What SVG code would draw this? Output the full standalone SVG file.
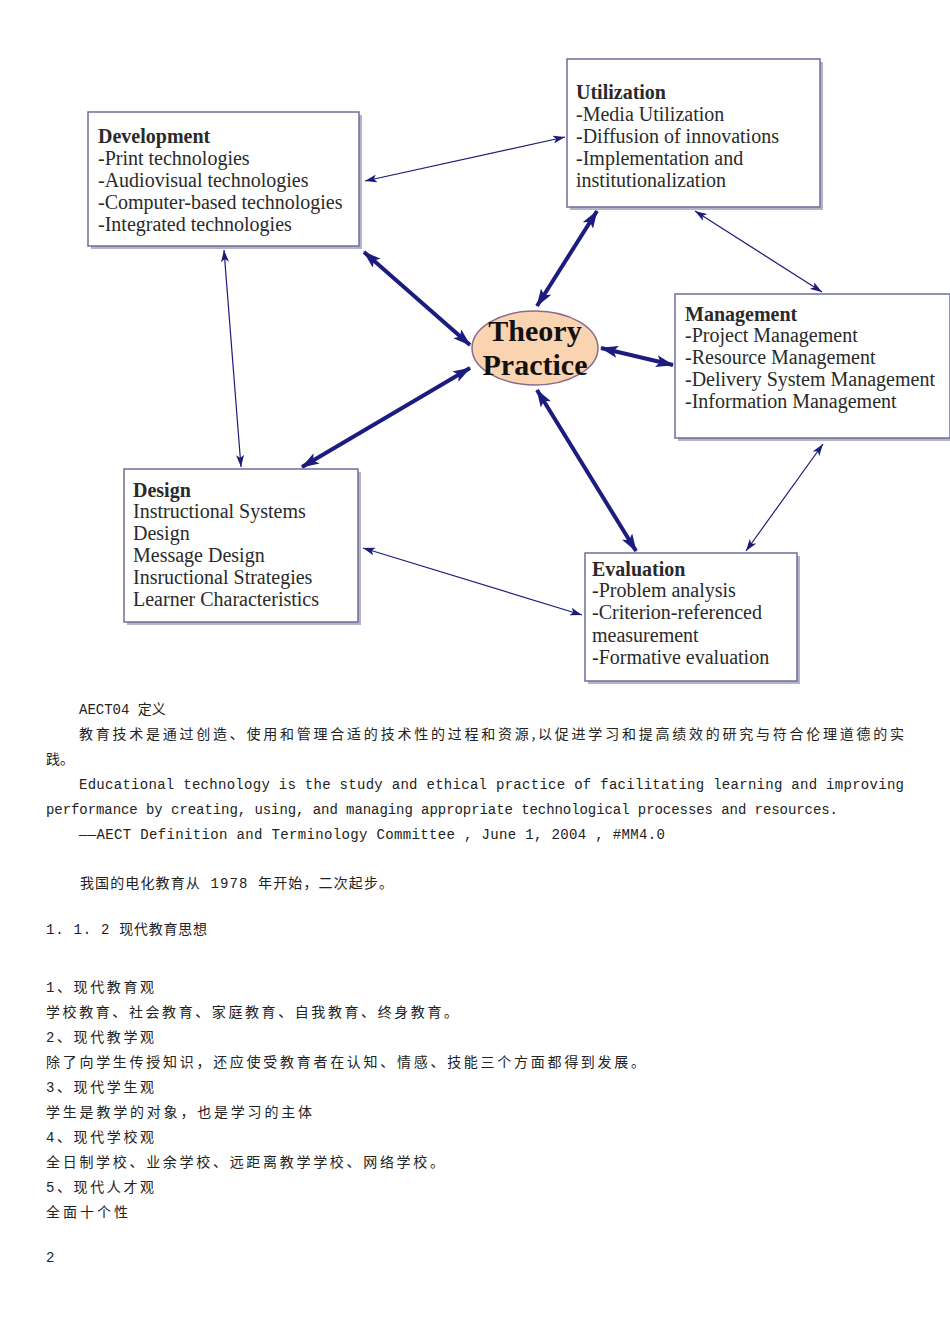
<svg xmlns="http://www.w3.org/2000/svg" width="950" height="1344" viewBox="0 0 950 1344">
<style>
.box{fill:#fff;stroke:#6e6e9a;stroke-width:1.5}
.sh{fill:#b4b4c8}
.bt{font-family:"Liberation Serif","Times New Roman",serif;font-size:20px;fill:#2a2a2a}
.bt .h{font-weight:bold}
.thin{stroke:#1c1c78;stroke-width:1.2;fill:none}
.thick{stroke:#1c1c80;stroke-width:4;fill:none}
.doc{font-family:"Liberation Mono","Noto Sans CJK SC",monospace;font-size:14px;fill:#222}
.cjk{font-family:"Noto Sans CJK SC",sans-serif;font-size:14px;fill:#222}
</style>
<defs>
<marker id="a1" viewBox="0 0 12 8" markerWidth="12" markerHeight="8" refX="12" refY="4" orient="auto-start-reverse" markerUnits="userSpaceOnUse"><path d="M0,0 L12,4 L0,8 L3,4 z" fill="#1c1c78"/></marker>
<marker id="a2" viewBox="0 0 18 12" markerWidth="18" markerHeight="12" refX="17" refY="6" orient="auto-start-reverse" markerUnits="userSpaceOnUse"><path d="M0,0 L18,6 L0,12 L4,6 z" fill="#1c1c80"/></marker>
</defs>
<g id="connectors">
<line class="thin" x1="365" y1="181" x2="565" y2="137" marker-start="url(#a1)" marker-end="url(#a1)"/>
<line class="thin" x1="224" y1="250" x2="241" y2="467" marker-start="url(#a1)" marker-end="url(#a1)"/>
<line class="thin" x1="695" y1="211" x2="822" y2="292" marker-start="url(#a1)" marker-end="url(#a1)"/>
<line class="thin" x1="823" y1="444" x2="746" y2="551" marker-start="url(#a1)" marker-end="url(#a1)"/>
<line class="thin" x1="363" y1="548" x2="582" y2="615" marker-start="url(#a1)" marker-end="url(#a1)"/>
<line class="thick" x1="364" y1="252" x2="470" y2="345" marker-start="url(#a2)" marker-end="url(#a2)"/>
<line class="thick" x1="597" y1="211" x2="537" y2="306" marker-start="url(#a2)" marker-end="url(#a2)"/>
<line class="thick" x1="601" y1="348" x2="673" y2="365" marker-start="url(#a2)" marker-end="url(#a2)"/>
<line class="thick" x1="470" y1="368" x2="302" y2="467" marker-start="url(#a2)" marker-end="url(#a2)"/>
<line class="thick" x1="537" y1="390" x2="636" y2="551" marker-start="url(#a2)" marker-end="url(#a2)"/>
</g>
<g id="development">
<rect class="sh" x="91" y="115" width="271" height="134"/>
<rect class="box" x="88" y="112" width="271" height="134"/>
<text class="bt"><tspan class="h" x="98" y="143">Development</tspan><tspan x="98" y="165">-Print technologies</tspan><tspan x="98" y="187">-Audiovisual technologies</tspan><tspan x="98" y="209">-Computer-based technologies</tspan><tspan x="98" y="231">-Integrated technologies</tspan></text>
</g>
<g id="utilization">
<rect class="sh" x="570" y="62" width="253" height="148"/>
<rect class="box" x="567" y="59" width="253" height="148"/>
<text class="bt"><tspan class="h" x="576" y="99">Utilization</tspan><tspan x="576" y="121">-Media Utilization</tspan><tspan x="576" y="143">-Diffusion of innovations</tspan><tspan x="576" y="165">-Implementation and</tspan><tspan x="576" y="187">institutionalization</tspan></text>
</g>
<g id="management">
<rect class="sh" x="678" y="297" width="275" height="144"/>
<rect class="box" x="675" y="294" width="275" height="144"/>
<text class="bt"><tspan class="h" x="685" y="321">Management</tspan><tspan x="685" y="342">-Project Management</tspan><tspan x="685" y="364">-Resource Management</tspan><tspan x="685" y="386">-Delivery System Management</tspan><tspan x="685" y="408">-Information Management</tspan></text>
</g>
<g id="design">
<rect class="sh" x="127" y="472" width="234" height="153"/>
<rect class="box" x="124" y="469" width="234" height="153"/>
<text class="bt"><tspan class="h" x="133" y="497">Design</tspan><tspan x="133" y="518">Instructional Systems</tspan><tspan x="133" y="540">Design</tspan><tspan x="133" y="562">Message Design</tspan><tspan x="133" y="584">Insructional Strategies</tspan><tspan x="133" y="606">Learner Characteristics</tspan></text>
</g>
<g id="evaluation">
<rect class="sh" x="588" y="556" width="212" height="128"/>
<rect class="box" x="585" y="553" width="212" height="128"/>
<text class="bt"><tspan class="h" x="592" y="576">Evaluation</tspan><tspan x="592" y="597">-Problem analysis</tspan><tspan x="592" y="619">-Criterion-referenced</tspan><tspan x="592" y="642">measurement</tspan><tspan x="592" y="664">-Formative evaluation</tspan></text>
</g>
<g id="theory-practice">
<ellipse cx="535" cy="348" rx="63" ry="37" fill="#fad3b0" stroke="#8a6a8a" stroke-width="1.5"/>
<text font-family="Liberation Serif,serif" font-weight="bold" font-size="30" fill="#111" text-anchor="middle"><tspan x="535" y="341">Theory</tspan><tspan x="535" y="375">Practice</tspan></text>
</g>
<g id="text-body">
<text class="doc" x="79" y="714">AECT04 定义</text>
<text class="cjk" x="79" y="739" textLength="825" lengthAdjust="spacing">教育技术是通过创造、使用和管理合适的技术性的过程和资源,以促进学习和提高绩效的研究与符合伦理道德的实</text>
<text class="cjk" x="46" y="764">践。</text>
<text class="doc" x="79" y="789" textLength="825" lengthAdjust="spacing">Educational technology is the study and ethical practice of facilitating learning and improving</text>
<text class="doc" x="46" y="814" textLength="792" lengthAdjust="spacing">performance by creating, using, and managing appropriate technological processes and resources.</text>
<text class="doc" x="79" y="839" textLength="586" lengthAdjust="spacing">——AECT Definition and Terminology Committee ,  June 1, 2004 , #MM4.0</text>
<text class="doc" x="80" y="888" textLength="313" lengthAdjust="spacing">我国的电化教育从 1978 年开始，二次起步。</text>
<text class="doc" x="46" y="934" textLength="161" lengthAdjust="spacing">1. 1. 2 现代教育思想</text>
<text class="doc" x="46" y="992" textLength="108" lengthAdjust="spacing">1、现代教育观</text>
<text class="cjk" x="46" y="1017" textLength="412" lengthAdjust="spacing">学校教育、社会教育、家庭教育、自我教育、终身教育。</text>
<text class="doc" x="46" y="1042" textLength="108" lengthAdjust="spacing">2、现代教学观</text>
<text class="cjk" x="46" y="1067" textLength="599" lengthAdjust="spacing">除了向学生传授知识，还应使受教育者在认知、情感、技能三个方面都得到发展。</text>
<text class="doc" x="46" y="1092" textLength="108" lengthAdjust="spacing">3、现代学生观</text>
<text class="cjk" x="46" y="1117" textLength="266" lengthAdjust="spacing">学生是教学的对象，也是学习的主体</text>
<text class="doc" x="46" y="1142" textLength="108" lengthAdjust="spacing">4、现代学校观</text>
<text class="cjk" x="46" y="1167" textLength="398" lengthAdjust="spacing">全日制学校、业余学校、远距离教学学校、网络学校。</text>
<text class="doc" x="46" y="1192" textLength="108" lengthAdjust="spacing">5、现代人才观</text>
<text class="cjk" x="46" y="1217" textLength="82" lengthAdjust="spacing">全面十个性</text>
<text class="doc" x="46" y="1262">2</text>
</g>
</svg>
